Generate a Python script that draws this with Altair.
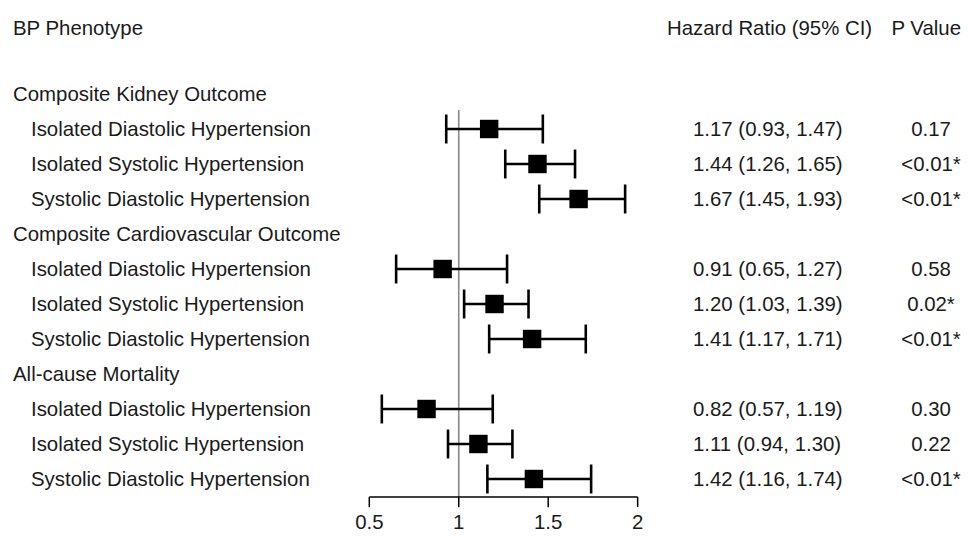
import altair as alt
import pandas as pd

# ---- data ----
column_titles = ["BP Phenotype", "Hazard Ratio (95% CI)", "P Value"]
groups = ["Composite Kidney Outcome", "Composite Cardiovascular Outcome", "All-cause Mortality"]
phenotypes = ["Isolated Diastolic Hypertension", "Isolated Systolic Hypertension",
              "Systolic Diastolic Hypertension"]
hr = [1.17, 1.44, 1.67, 0.91, 1.20, 1.41, 0.82, 1.11, 1.42]
lo = [0.93, 1.26, 1.45, 0.65, 1.03, 1.17, 0.57, 0.94, 1.16]
hi = [1.47, 1.65, 1.93, 1.27, 1.39, 1.71, 1.19, 1.30, 1.74]
p_values = ["0.17", "<0.01*", "<0.01*", "0.58", "0.02*", "<0.01*", "0.30", "0.22", "<0.01*"]
tick_values = [0.5, 1, 1.5, 2]
tick_labels = ["0.5", "1", "1.5", "2"]
reference_value = 1

# ---- tables ----
header_rows, est_rows = [], []
r = 1
k = 0
for g in groups:
    header_rows.append({"r": r, "label": g})
    r += 1
    for ph in phenotypes:
        est_rows.append({
            "r": r, "label": ph, "hr": hr[k], "lo": lo[k], "hi": hi[k],
            "hr_text": f"{hr[k]:.2f} ({lo[k]:.2f}, {hi[k]:.2f})",
            "p": p_values[k],
        })
        r += 1
        k += 1
last_r = r - 1

headers = pd.DataFrame(header_rows)
est = pd.DataFrame(est_rows)
ticks = pd.DataFrame({"v": tick_values, "lab": tick_labels})
title_df = pd.DataFrame({"r": [-0.914] * 3, "t": column_titles})

axis_r = last_r + 0.514
ref_df = pd.DataFrame({"v": [reference_value], "r1": [1.457], "r2": [axis_r]})
axis_df = pd.DataFrame({"v1": [min(tick_values)], "v2": [max(tick_values)], "r": [axis_r]})
ticks["r1"] = axis_r
ticks["r2"] = axis_r + 0.29
ticks["rl"] = axis_r + 0.74

W, H = 953, 526
xs = alt.Scale(domain=[-1.51956, 3.80743], nice=False, zero=False)
ys = alt.Scale(domain=[-1.45714, 13.57143], reverse=True, nice=False, zero=False)
FONT = "Liberation Sans"
FS = 20.4
TXT = "#1a1a1a"
DY = 1.5

def Y(field):
    return alt.Y(field, type="quantitative", scale=ys, axis=None)

def X(field):
    return alt.X(field, type="quantitative", scale=xs, axis=None)

def txt(chart, align):
    return chart.mark_text(font=FONT, fontSize=FS, color=TXT, baseline="middle",
                           align=align, dy=DY)

base_est = alt.Chart(est)

ci = base_est.mark_rule(color="black", strokeWidth=2.6).encode(
    x=X("lo"), x2="hi", y=Y("r"))
caps_lo = base_est.transform_calculate(a="datum.r - 0.414", b="datum.r + 0.414").mark_rule(
    color="black", strokeWidth=2.6).encode(x=X("lo"), y=Y("a"), y2="b")
caps_hi = base_est.transform_calculate(a="datum.r - 0.414", b="datum.r + 0.414").mark_rule(
    color="black", strokeWidth=2.6).encode(x=X("hi"), y=Y("a"), y2="b")
pts = base_est.mark_square(color="black", size=340, opacity=1, strokeWidth=0).encode(
    x=X("hr"), y=Y("r"))

ref = alt.Chart(ref_df).mark_rule(color="#8a8a8a", strokeWidth=1.6).encode(
    x=X("v"), y=Y("r1"), y2="r2")
axis_line = alt.Chart(axis_df).mark_rule(color="black", strokeWidth=1.5).encode(
    x=X("v1"), x2="v2", y=Y("r"))
tick_marks = alt.Chart(ticks).mark_rule(color="black", strokeWidth=1.5).encode(
    x=X("v"), y=Y("r1"), y2="r2")
tick_text = alt.Chart(ticks).mark_text(font=FONT, fontSize=FS, color=TXT, baseline="middle",
                                       align="center").encode(
    x=X("v"), y=Y("rl"), text="lab:N")

head_text = txt(alt.Chart(headers), "left").encode(
    x=alt.value(5), y=Y("r"), text="label:N")
row_text = txt(base_est, "left").encode(
    x=alt.value(23), y=Y("r"), text="label:N")
hr_text = txt(base_est, "left").encode(
    x=alt.value(685), y=Y("r"), text="hr_text:N")
p_text = txt(base_est, "center").encode(
    x=alt.value(923), y=Y("r"), text="p:N")

t1 = txt(alt.Chart(title_df.iloc[[0]]), "left").encode(
    x=alt.value(5), y=Y("r"), text="t:N")
t2 = txt(alt.Chart(title_df.iloc[[1]]), "left").encode(
    x=alt.value(659), y=Y("r"), text="t:N")
t3 = txt(alt.Chart(title_df.iloc[[2]]), "right").encode(
    x=alt.value(953), y=Y("r"), text="t:N")

chart = alt.layer(
    ref, axis_line, tick_marks, tick_text, ci, caps_lo, caps_hi, pts,
    head_text, row_text, hr_text, p_text, t1, t2, t3
).properties(
    width=W, height=H, autosize=alt.AutoSizeParams(type="none"), padding=0
).configure_view(stroke=None, strokeWidth=0, fill="white")

chart.save("out.html", embed_options={"renderer": "svg", "actions": False})
